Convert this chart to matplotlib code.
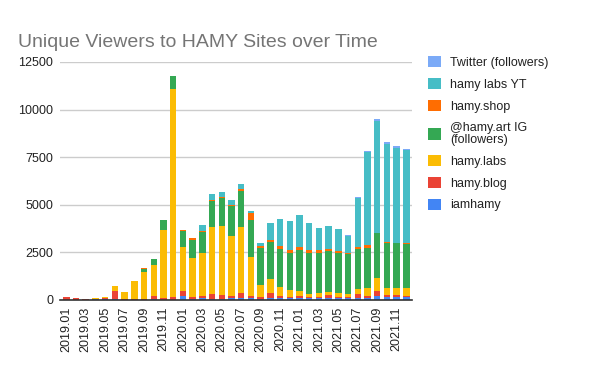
import matplotlib

matplotlib.use("Agg")

import matplotlib.pyplot as plt
import numpy as np
from matplotlib.patches import Patch

plt.rcParams["font.family"] = ["Liberation Sans", "DejaVu Sans"]

months = [f"{y}.{m:02d}" for y in (2019, 2020, 2021) for m in range(1, 13)]

iamhamy = [0, 0, 0, 50, 60, 70, 20, 20, 15, 30, 20, 20,
           210, 70, 105, 70, 70, 85, 85, 85, 70, 100, 100, 85,
           105, 85, 100, 100, 85, 85, 100, 100, 190, 175, 175, 175]
hamy_blog = [170, 120, 70, 10, 30, 400, 55, 50, 60, 180, 80, 130,
             260, 85, 105, 240, 190, 125, 280, 125, 85, 265, 110, 70,
             105, 70, 55, 160, 55, 90, 210, 110, 280, 85, 70, 35]
hamy_labs = [0, 0, 0, 50, 80, 260, 345, 920, 1385, 1610, 3600, 10940,
             2290, 2035, 2240, 3545, 3645, 3175, 3490, 2030, 625, 730, 465, 365,
             260, 155, 210, 155, 225, 135, 280, 430, 675, 380, 395, 430]
hamy_art_ig = [0, 0, 0, 0, 0, 0, 0, 0, 170, 315, 520, 680,
               885, 985, 1145, 1320, 1460, 1565, 1875, 1980, 1930, 1925, 2000, 1960,
               2135, 2155, 2100, 2155, 2100, 2085, 2065, 2070, 2360, 2345, 2345, 2275]
hamy_shop = [0, 0, 0, 0, 0, 0, 0, 0, 40, 0, 0, 0,
             55, 55, 10, 50, 35, 50, 105, 365, 100, 155, 135, 120,
             175, 135, 135, 105, 105, 85, 140, 155, 0, 55, 0, 70]
hamy_labs_yt = [0, 0, 0, 0, 0, 0, 0, 0, 0, 0, 0, 0,
                0, 0, 310, 345, 280, 260, 260, 105, 160, 885, 1460, 1565,
                1700, 1460, 1200, 1230, 1180, 880, 2575, 4910, 5915, 5170, 5015, 4895]
twitter = [0] * 29 + [35, 30, 35, 90, 70, 70, 70]

series = [
    ("iamhamy", iamhamy, "#4285F4"),
    ("hamy.blog", hamy_blog, "#EA4335"),
    ("hamy.labs", hamy_labs, "#FBBC04"),
    ("@hamy.art IG\n(followers)", hamy_art_ig, "#34A853"),
    ("hamy.shop", hamy_shop, "#FF6D01"),
    ("hamy labs YT", hamy_labs_yt, "#46BDC6"),
    ("Twitter (followers)", twitter, "#7BAAF7"),
]

fig = plt.figure(figsize=(6, 3.71), dpi=100)
ax = fig.add_axes([0.1, 0.1914, 0.587, 0.6416])

x = np.arange(len(months))
bottom = np.zeros(len(months))
for name, vals, color in series:
    vals = np.array(vals, dtype=float)
    ax.bar(x, vals, bottom=bottom, width=0.67, color=color, linewidth=0, zorder=2)
    bottom += vals

ax.set_xlim(-0.65, 35.6)
ax.set_ylim(0, 12500)
ax.set_yticks([0, 2500, 5000, 7500, 10000, 12500])
ax.set_yticklabels(["0", "2500", "5000", "7500", "10000", "12500"])
ax.set_xticks(x[::2])
ax.set_xticklabels(months[::2], rotation=90)
ax.tick_params(axis="both", length=0, labelsize=9, colors="#222222")
ax.tick_params(axis="y", pad=5)
ax.tick_params(axis="x", pad=5)
ax.grid(axis="y", color="#cccccc", linewidth=1, zorder=0)
for side in ("top", "right", "left"):
    ax.spines[side].set_visible(False)
ax.spines["bottom"].set_color("#333333")
ax.spines["bottom"].set_linewidth(1.2)
ax.spines["bottom"].set_zorder(3)

fig.text(0.03, 0.873, "Unique Viewers to HAMY Sites over Time",
         fontsize=14, color="#757575", va="baseline", ha="left")

handles = [Patch(facecolor=c, edgecolor="none", label=n) for n, _, c in reversed(series)]
leg = fig.legend(handles=handles, loc="upper left", bbox_to_anchor=(0.705, 0.862),
                 frameon=False, fontsize=9, handlelength=1.0, handleheight=1.0,
                 handletextpad=0.8, labelspacing=0.72, borderaxespad=0)
for t in leg.get_texts():
    t.set_color("#222222")
    t.set_linespacing(1.0)

fig.savefig("out.png", dpi=100)
plt.close(fig)
